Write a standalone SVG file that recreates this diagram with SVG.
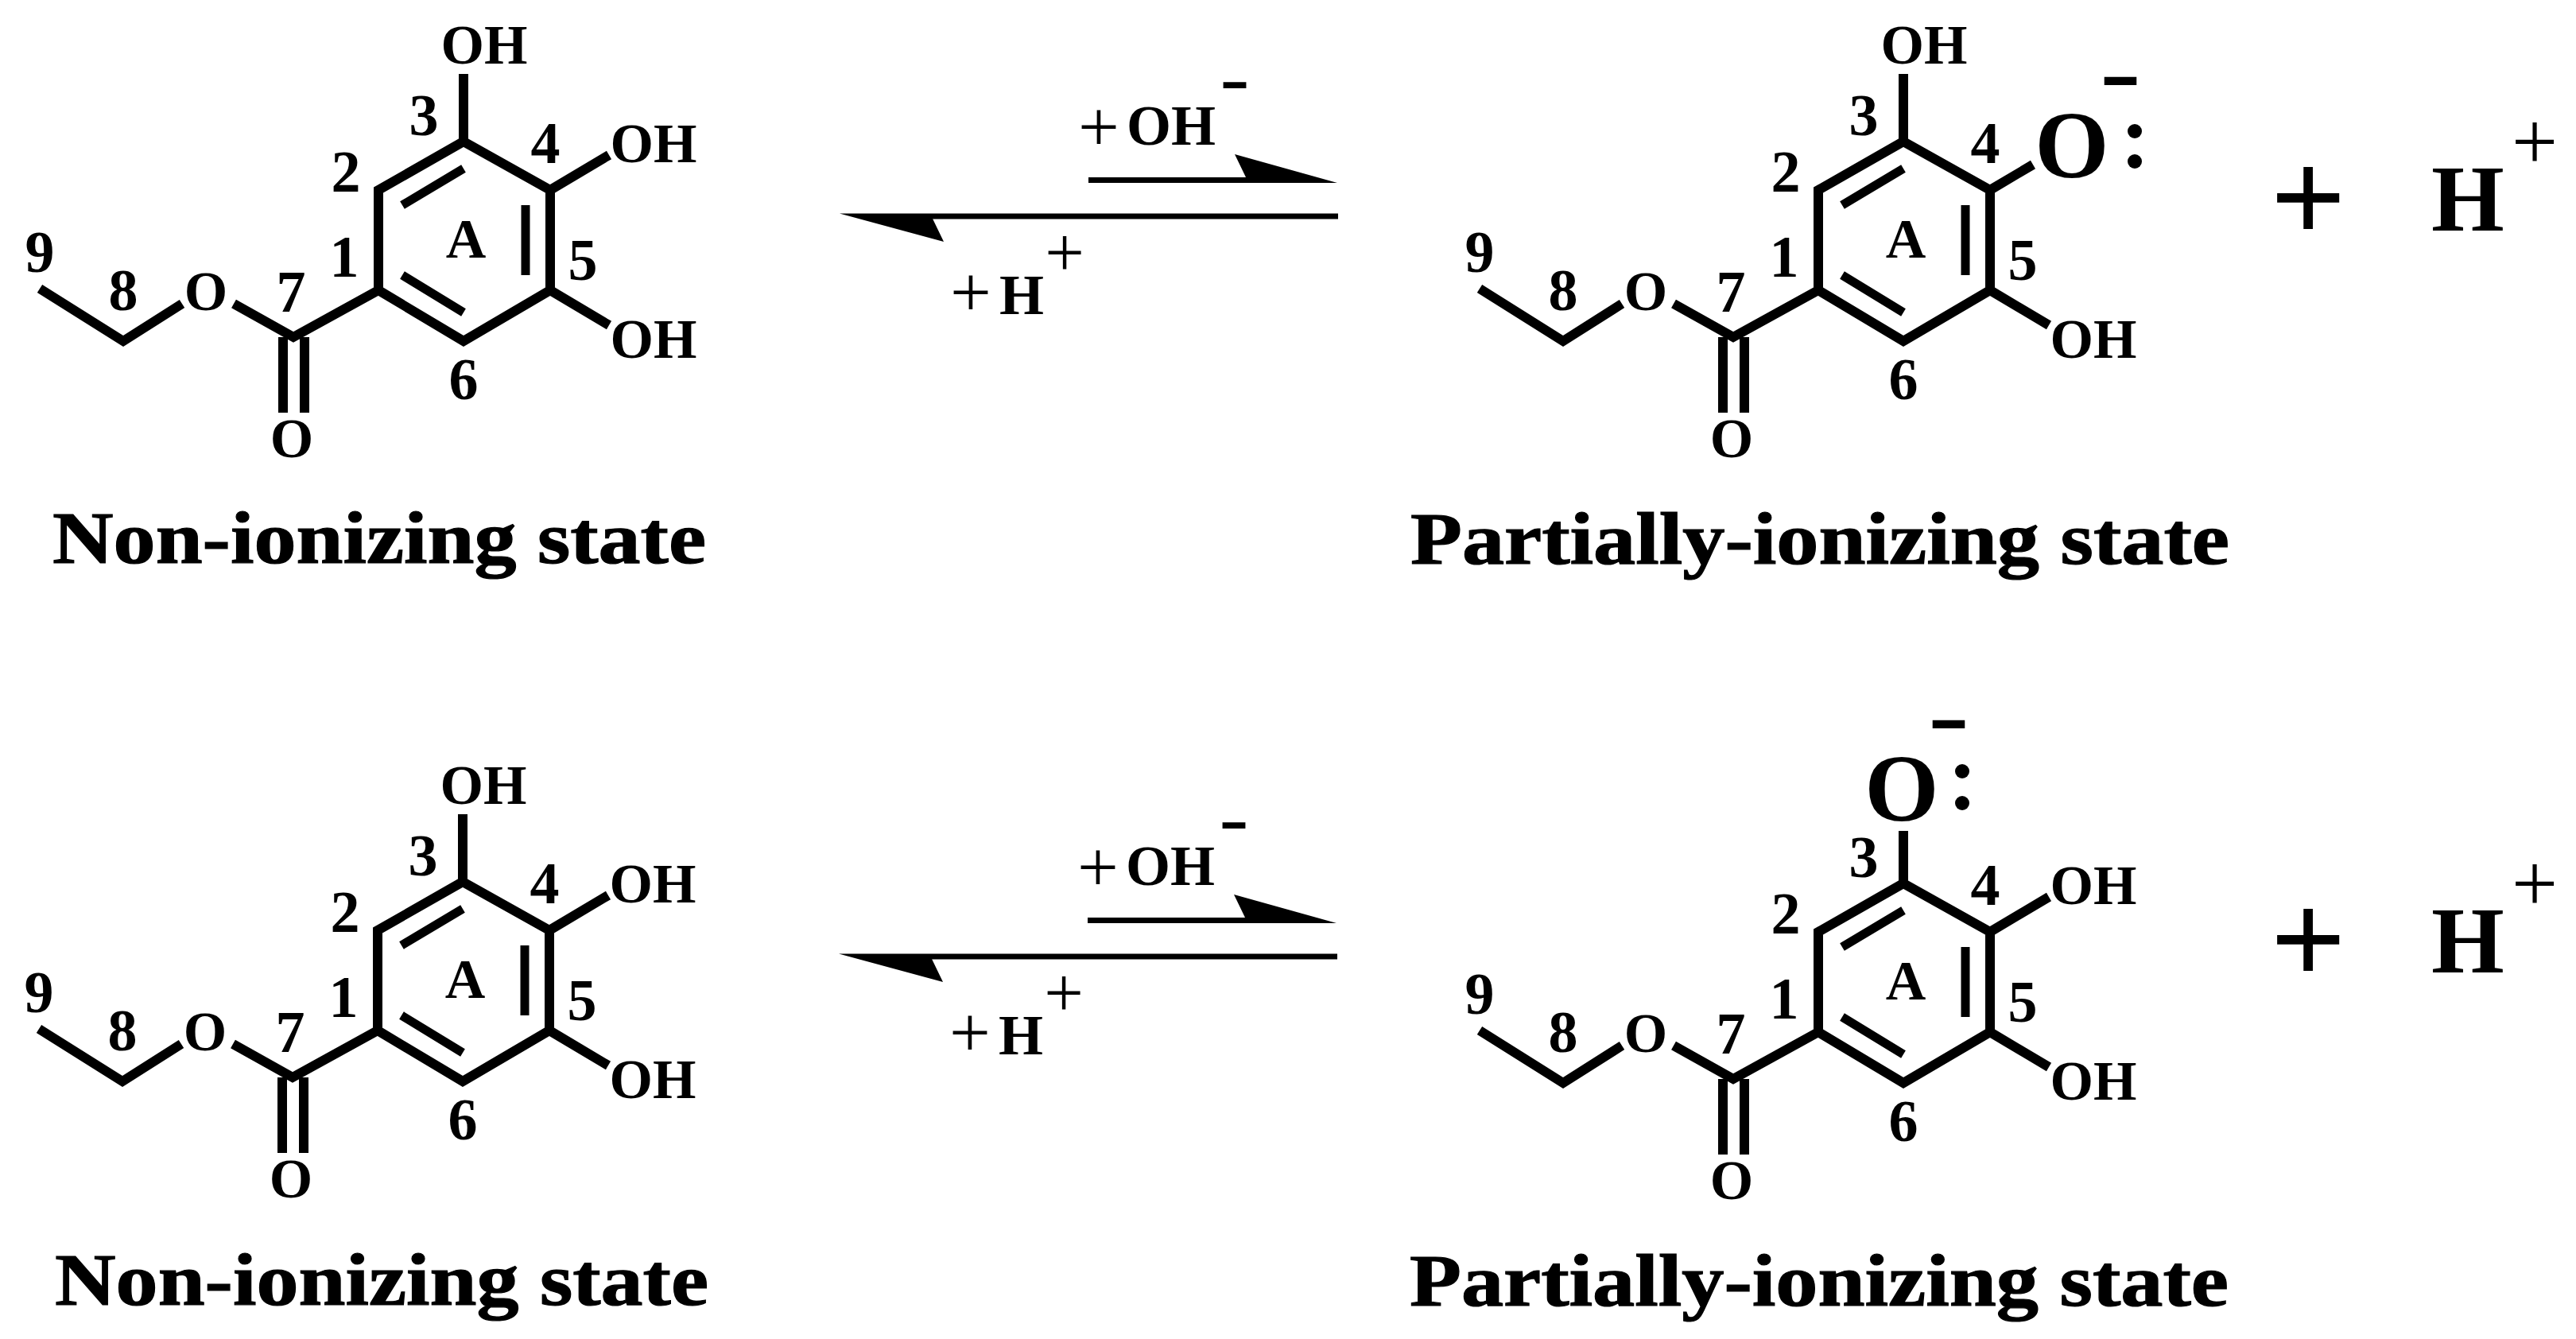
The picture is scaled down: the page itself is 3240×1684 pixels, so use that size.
<svg xmlns="http://www.w3.org/2000/svg" width="3240" height="1684" viewBox="0 0 3240 1684">
<style>
text{font-family:"Liberation Serif","Times New Roman",serif;font-weight:700;fill:#000;text-anchor:middle}
.a{font-size:70px}
.n{font-size:74px}
.t{font-size:94px;stroke:#000;stroke-width:1.2px}
.p{font-weight:400}
.b{fill:none;stroke:#000;stroke-width:12;stroke-linejoin:miter}
.i{fill:none;stroke:#000;stroke-width:11}
.l{stroke:#000;stroke-width:7;fill:none}
</style>
<defs>
<g id="skeleton">
<path class="b" d="M583 178L692 239V365L583 429L476 365V239Z"/>
<path class="i" d="M506 258L583 212M661 258V346M506 346L583 393"/>
<path class="b" d="M476 365L369 424L294 382M229 382L155 429L50 363M356 424V519M383 424V519"/>
</g>
</defs>
<rect width="3240" height="1684" fill="#fff"/>
<g id="molecule-1">
<use href="#skeleton"/>
<path class="b" d="M583 178V93M692 239L766 195M692 365L766 409"/>
<text class="a" x="609" y="80">OH</text><text class="a" x="822" y="204">OH</text><text class="a" x="822" y="450">OH</text>
<text class="n" x="533" y="170">3</text><text class="n" x="686" y="205">4</text><text class="n" x="435" y="241">2</text><text class="n" x="433" y="348">1</text><text class="n" x="733" y="352">5</text><text class="n" x="366" y="392">7</text><text class="n" x="155" y="390">8</text><text class="n" x="50" y="342">9</text><text class="n" x="583" y="502">6</text>
<text class="a" x="586" y="324">A</text><text class="a" x="259" y="390">O</text><text class="a" x="367" y="575">O</text>
<text class="t" x="477" y="708" textLength="822" lengthAdjust="spacingAndGlyphs">Non-ionizing state</text>
</g>
<g id="molecule-2" transform="translate(1811 0)">
<use href="#skeleton"/>
<path class="b" d="M583 178V93M692 239L746 207M692 365L766 409"/>
<text class="a" x="609" y="80">OH</text><text class="a" x="822" y="450">OH</text>
<text class="n" x="533" y="170">3</text><text class="n" x="686" y="205">4</text><text class="n" x="435" y="241">2</text><text class="n" x="433" y="348">1</text><text class="n" x="733" y="352">5</text><text class="n" x="366" y="392">7</text><text class="n" x="155" y="390">8</text><text class="n" x="50" y="342">9</text><text class="n" x="583" y="502">6</text>
<text class="a" x="586" y="324">A</text><text class="a" x="259" y="390">O</text><text class="a" x="367" y="575">O</text>
<text x="795" y="223" style="font-size:120px">O</text>
<circle cx="874" cy="165" r="9"/><circle cx="874" cy="203" r="9"/>
<text x="856" y="130" style="font-size:120px" textLength="52" lengthAdjust="spacingAndGlyphs">-</text>
<text class="t" x="478" y="709" textLength="1030" lengthAdjust="spacingAndGlyphs">Partially-ionizing state</text>
</g>
<g id="proton-1">
<text x="2903" y="305" style="font-size:168px">+</text>
<text x="3104" y="290" style="font-size:118px">H</text>
<text class="p" x="3188" y="213" style="font-size:103px">+</text>
</g>
<g id="molecule-3" transform="translate(-1 931)">
<use href="#skeleton"/>
<path class="b" d="M583 178V93M692 239L766 195M692 365L766 409"/>
<text class="a" x="609" y="80">OH</text><text class="a" x="822" y="204">OH</text><text class="a" x="822" y="450">OH</text>
<text class="n" x="533" y="170">3</text><text class="n" x="686" y="205">4</text><text class="n" x="435" y="241">2</text><text class="n" x="433" y="348">1</text><text class="n" x="733" y="352">5</text><text class="n" x="366" y="392">7</text><text class="n" x="155" y="390">8</text><text class="n" x="50" y="342">9</text><text class="n" x="583" y="502">6</text>
<text class="a" x="586" y="324">A</text><text class="a" x="259" y="390">O</text><text class="a" x="367" y="575">O</text>
<text class="t" x="481" y="710" textLength="822" lengthAdjust="spacingAndGlyphs">Non-ionizing state</text>
</g>
<g id="molecule-4" transform="translate(1811 933)">
<use href="#skeleton"/>
<path class="b" d="M583 178V112M692 239L766 195M692 365L766 409"/>
<text class="a" x="822" y="204">OH</text><text class="a" x="822" y="450">OH</text>
<text class="n" x="533" y="170">3</text><text class="n" x="686" y="205">4</text><text class="n" x="435" y="241">2</text><text class="n" x="433" y="348">1</text><text class="n" x="733" y="352">5</text><text class="n" x="366" y="392">7</text><text class="n" x="155" y="390">8</text><text class="n" x="50" y="342">9</text><text class="n" x="583" y="502">6</text>
<text class="a" x="586" y="324">A</text><text class="a" x="259" y="390">O</text><text class="a" x="367" y="575">O</text>
<text x="581" y="99" style="font-size:120px">O</text>
<circle cx="657" cy="37" r="9"/><circle cx="657" cy="77" r="9"/>
<text x="640" y="6" style="font-size:120px" textLength="52" lengthAdjust="spacingAndGlyphs">-</text>
<text class="t" x="477" y="709" textLength="1030" lengthAdjust="spacingAndGlyphs">Partially-ionizing state</text>
</g>
<g id="proton-2" transform="translate(0 933)">
<text x="2903" y="305" style="font-size:168px">+</text>
<text x="3104" y="290" style="font-size:118px">H</text>
<text class="p" x="3188" y="213" style="font-size:103px">+</text>
</g>
<g id="connectors">
<g id="arrows-1">
<path class="l" d="M1369 226.500H1570M1173 272H1683"/>
<path d="M1682 230L1553 194L1567 223L1567 230ZM1056 268.500L1187 304L1173 275V268.500Z"/>
</g>
<g id="arrows-2" transform="translate(-1 931)">
<path class="l" d="M1369 226.500H1570M1173 272H1683"/>
<path d="M1682 230L1553 194L1567 223L1567 230ZM1056 268.500L1187 304L1173 275V268.500Z"/>
</g>
</g>
<g id="reagents-1">
<text class="p" x="1382" y="190" style="font-size:92px">+</text><text x="1473" y="182" style="font-size:72px">OH</text>
<text x="1553" y="129" style="font-size:90px" textLength="37" lengthAdjust="spacingAndGlyphs">-</text>
<text class="p" x="1221" y="398" style="font-size:92px">+</text><text x="1285" y="395" style="font-size:72px">H</text><text class="p" x="1339" y="347" style="font-size:88px">+</text>
</g>
<g id="reagents-2" transform="translate(-1 931)">
<text class="p" x="1382" y="190" style="font-size:92px">+</text><text x="1473" y="182" style="font-size:72px">OH</text>
<text x="1553" y="129" style="font-size:90px" textLength="37" lengthAdjust="spacingAndGlyphs">-</text>
<text class="p" x="1221" y="398" style="font-size:92px">+</text><text x="1285" y="395" style="font-size:72px">H</text><text class="p" x="1339" y="347" style="font-size:88px">+</text>
</g>
</svg>
